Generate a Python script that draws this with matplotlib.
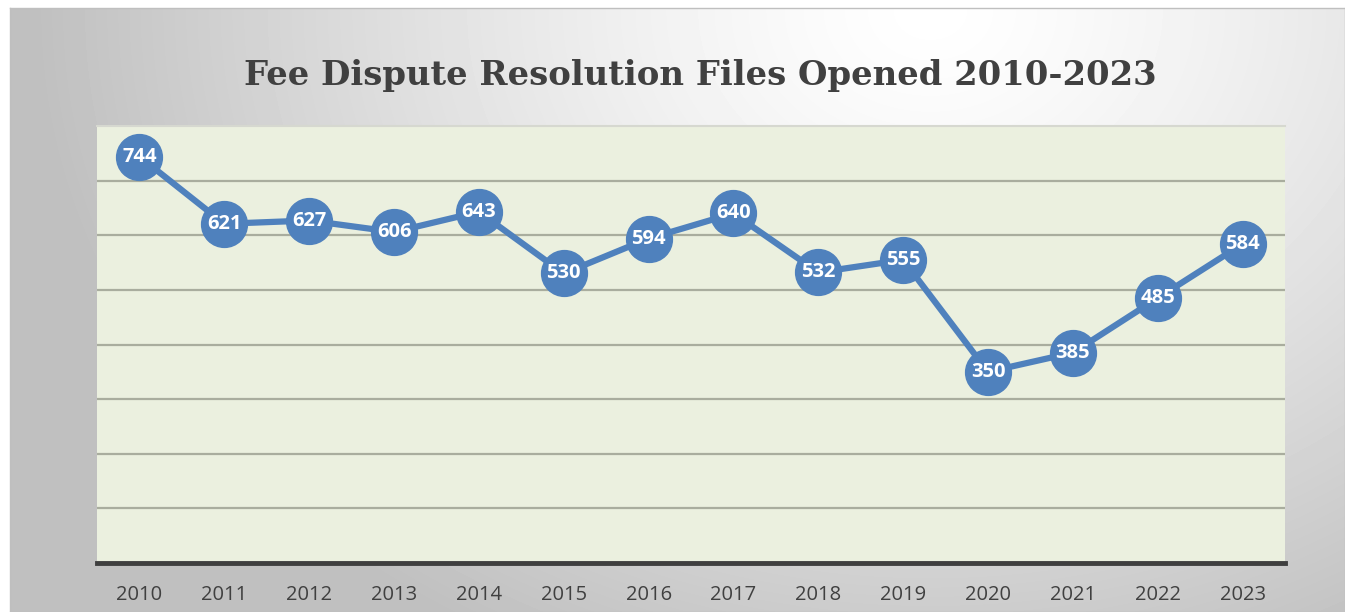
import numpy as np
import matplotlib
matplotlib.use('Agg')
import matplotlib.pyplot as plt

# data
years = ['2010', '2011', '2012', '2013', '2014', '2015', '2016',
         '2017', '2018', '2019', '2020', '2021', '2022', '2023']
files_opened = [744, 621, 627, 606, 643, 530, 594, 640, 532, 555, 350, 385, 485, 584]
title = 'Fee Dispute Resolution Files Opened 2010-2023'

W, H = 1345, 612
fig = plt.figure(figsize=(W / 100, H / 100), dpi=100)
fig.patch.set_facecolor('white')

# chart area with a radial grey gradient
bx0, by0 = 10, 8
bg = fig.add_axes([bx0 / W, 0, (W - bx0) / W, (H - by0) / H], zorder=-5)
gx, gy = np.meshgrid(np.arange(bx0, W), np.arange(by0, H))
r = np.hypot(gx - 930, (gy - 10) * 1.25)
shade = 1.0 - 0.25 * np.clip(r / 900, 0, 1) ** 1.3
bg.imshow(shade, cmap='gray', vmin=0, vmax=1, aspect='auto',
          extent=[0, 1, 0, 1], interpolation='bilinear')
bg.set_xticks([])
bg.set_yticks([])
for s in bg.spines.values():
    s.set_color('#BFBFBF')
    s.set_linewidth(1)

fig.text(0.5205, 1 - 76 / H, title, ha='center', va='center',
         fontsize=24.4, fontweight='bold', family='DejaVu Serif', color='#404040')

# plot area
left, right, top, bottom = 97, 1285, 126, 563
ax = fig.add_axes([left / W, 1 - bottom / H, (right - left) / W, (bottom - top) / H])
ax.set_facecolor('#EBF0DF')

x = np.arange(len(years))
ax.plot(x, files_opened, color='#4F81BD', lw=4.5, marker='o', ms=33,
        mfc='#4F81BD', mec='#4F81BD', zorder=3, clip_on=False)
for xi, v in zip(x, files_opened):
    ax.text(xi, v, str(v), ha='center', va='center', color='white',
            fontsize=14.5, fontweight='bold', family='Open Sans', zorder=4)

ax.set_xlim(-0.5, len(years) - 0.5)
ax.set_ylim(0, 800)
ax.set_yticks(np.arange(0, 701, 100))
ax.yaxis.grid(True, color='#A9AD9E', lw=1.6)
ax.set_axisbelow(True)
ax.tick_params(axis='y', left=False, labelleft=False)
ax.set_xticks(x)
ax.set_xticklabels(years, fontsize=14.5, color='#404040', family='Open Sans')
ax.tick_params(axis='x', length=0, pad=16)

for name in ['left', 'right']:
    ax.spines[name].set_visible(False)
ax.spines['top'].set_color('#D6D8D0')
ax.spines['top'].set_linewidth(1.5)
ax.spines['bottom'].set_color('#3F3F3F')
ax.spines['bottom'].set_linewidth(3.5)

fig.savefig('out.png', dpi=100)
